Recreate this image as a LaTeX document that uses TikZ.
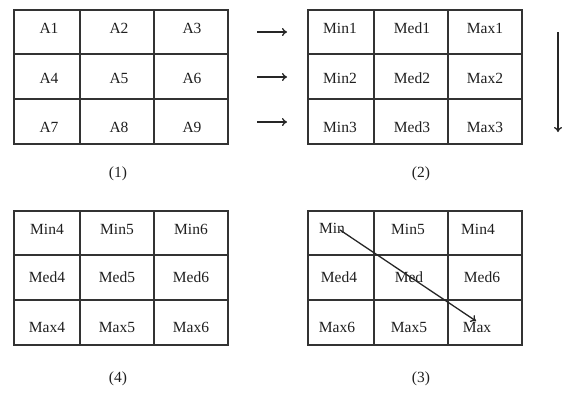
\documentclass[tikz,border=0pt]{standalone}
\usepackage{fontspec}
\setmainfont{Liberation Serif}
\usetikzlibrary{arrows.meta}
\newcommand\drawgridat[2]{%
  \draw[gridline] (#1+14,#2+10) rectangle (#1+228,#2+144);
  \draw[gridline] (#1+80,#2+10) -- (#1+80,#2+144);
  \draw[gridline] (#1+154,#2+10) -- (#1+154,#2+144);
  \draw[gridline] (#1+14,#2+54) -- (#1+228,#2+54);
  \draw[gridline] (#1+14,#2+99) -- (#1+228,#2+99);
}
\begin{document}
\begin{tikzpicture}[x=1pt,y=-1pt,
  gridline/.style={draw=black!80, line width=1.4pt},
  cell/.style={inner sep=0pt, font=\fontsize{15.5}{15.5}\selectfont, text=black!88},
  captext/.style={inner sep=0pt, font=\fontsize{15.5}{15.5}\selectfont, text=black!88},
  arr/.style={-{To[length=5pt,width=8pt]}, line width=1.3pt, draw=black!85}]
\useasboundingbox[fill=white] (0,0) rectangle (562,392);
% grids
\drawgridat{0}{0}
\drawgridat{294}{0}
\drawgridat{0}{201}
\drawgridat{294}{201}
% grid 1
\node[cell] (a1) at (49,28.5) {A1};
\node[cell] (a2) at (119,28.5) {A2};
\node[cell] (a3) at (192,28.5) {A3};
\node[cell] (a4) at (49,78) {A4};
\node[cell] (a5) at (119,78) {A5};
\node[cell] (a6) at (192,78) {A6};
\node[cell] (a7) at (49,127.5) {A7};
\node[cell] (a8) at (119,127.5) {A8};
\node[cell] (a9) at (192,127.5) {A9};
% grid 2
\node[cell] (b1) at (340,28.5) {Min1};
\node[cell] (b2) at (412,28.5) {Med1};
\node[cell] (b3) at (485,28.5) {Max1};
\node[cell] (b4) at (340,78) {Min2};
\node[cell] (b5) at (412,78) {Med2};
\node[cell] (b6) at (485,78) {Max2};
\node[cell] (b7) at (340,127.5) {Min3};
\node[cell] (b8) at (412,127.5) {Med3};
\node[cell] (b9) at (485,127.5) {Max3};
% grid 4
\node[cell] (d1) at (47,229) {Min4};
\node[cell] (d2) at (117,229) {Min5};
\node[cell] (d3) at (191,229) {Min6};
\node[cell] (d4) at (47,277.5) {Med4};
\node[cell] (d5) at (117,277.5) {Med5};
\node[cell] (d6) at (191,277.5) {Med6};
\node[cell] (d7) at (47,327) {Max4};
\node[cell] (d8) at (117,327) {Max5};
\node[cell] (d9) at (191,327) {Max6};
% grid 3
\node[cell] (c1) at (332,228.5) {Min};
\node[cell] (c2) at (408,229) {Min5};
\node[cell] (c3) at (478,229) {Min4};
\node[cell] (c4) at (339,277.5) {Med4};
\node[cell] (c5) at (409,277.5) {Med};
\node[cell] (c6) at (482,277.5) {Med6};
\node[cell] (c7) at (337,327) {Max6};
\node[cell] (c8) at (409,327) {Max5};
\node[cell] (c9) at (477,327) {Max};
% captions
\node[captext] (l1) at (118,174) {(1)};
\node[captext] (l2) at (421,174) {(2)};
\node[captext] (l4) at (118,379) {(4)};
\node[captext] (l3) at (421,379) {(3)};
% arrows
\coordinate (h1s) at (257,32); \coordinate (h1e) at (287,32);
\coordinate (h2s) at (257,77); \coordinate (h2e) at (287,77);
\coordinate (h3s) at (257,122); \coordinate (h3e) at (287,122);
\coordinate (vs) at (558,32); \coordinate (ve) at (558,132);
\coordinate (ds) at (340,230); \coordinate (de) at (476,321);
\draw[arr] (h1s) -- (h1e);
\draw[arr] (h2s) -- (h2e);
\draw[arr] (h3s) -- (h3e);
\draw[arr] (vs) -- (ve);
\draw[arr] (ds) -- (de);
\end{tikzpicture}
\end{document}
